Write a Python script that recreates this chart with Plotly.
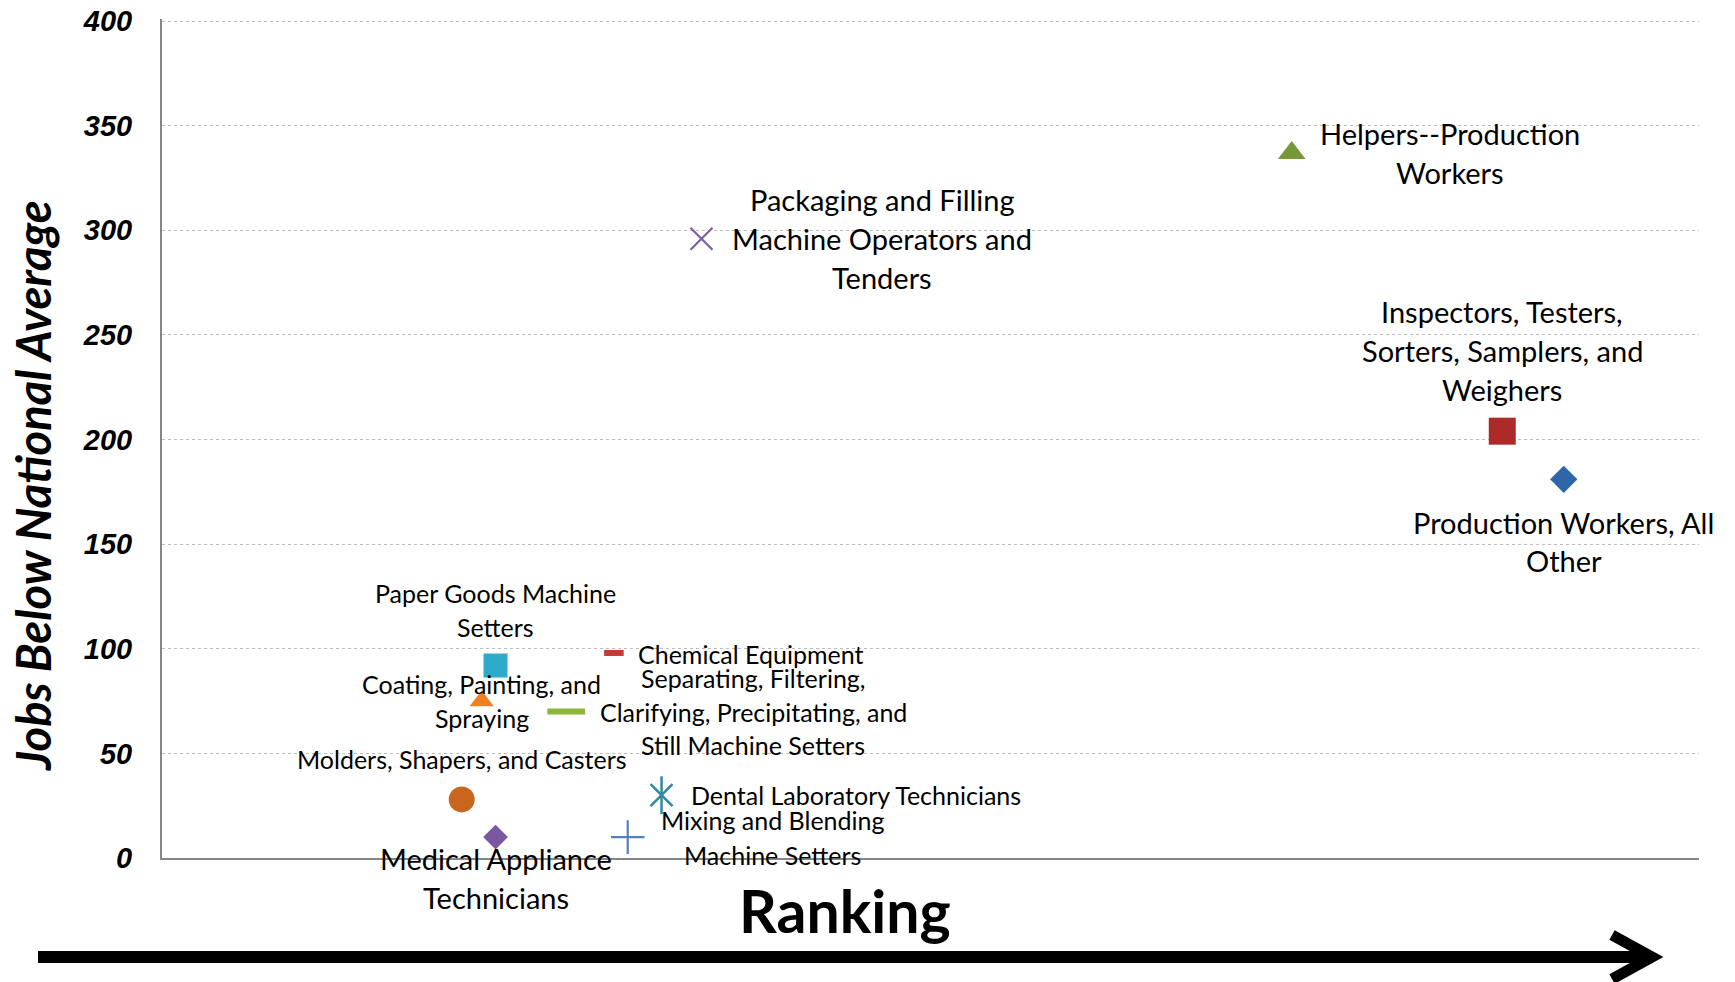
import plotly.graph_objects as go

# ---------------- data ----------------
occupations = [
    "Molders, Shapers, and Casters",
    "Medical Appliance Technicians",
    "Paper Goods Machine Setters",
    "Coating, Painting, and Spraying",
    "Chemical Equipment",
    "Separating, Filtering, Clarifying, Precipitating, and Still Machine Setters",
    "Dental Laboratory Technicians",
    "Mixing and Blending Machine Setters",
    "Packaging and Filling Machine Operators and Tenders",
    "Helpers--Production Workers",
    "Inspectors, Testers, Sorters, Samplers, and Weighers",
    "Production Workers, All Other",
]
ranking = [19.5, 21.7, 21.7, 20.8, 29.4, 26.3, 32.5, 30.3, 35.1, 73.5, 87.2, 91.2]
jobs_below = [28, 10, 92, 75, 98, 70, 30, 10, 296, 337, 204, 181]

label_lines = [
    ["Molders, Shapers, and Casters"],
    ["Medical Appliance", "Technicians"],
    ["Paper Goods Machine", "Setters"],
    ["Coating, Painting, and", "Spraying"],
    ["Chemical Equipment"],
    ["Separating, Filtering,", "Clarifying, Precipitating, and", "Still Machine Setters"],
    ["Dental Laboratory Technicians"],
    ["Mixing and Blending", "Machine Setters"],
    ["Packaging and Filling", "Machine Operators and", "Tenders"],
    ["Helpers--Production", "Workers"],
    ["Inspectors, Testers,", "Sorters, Samplers, and", "Weighers"],
    ["Production Workers, All", "Other"],
]
y_ticks = [0, 50, 100, 150, 200, 250, 300, 350, 400]

# ---------------- styles ----------------
# (symbol, size, color, line width) ; open symbols use line colour
marker_styles = [
    [("circle", 26, "#C9661D", 0)],
    [("diamond", 19, "#7B56A3", 0)],
    [("square", 24, "#2EABCB", 0)],
    [("triangle-up", 21, "#F07F1D", 0)],
    [("line-ew-open", 14, "#C43B35", 6)],
    [("line-ew-open", 27, "#8DB63C", 6)],
    [("x-thin-open", 22, "#31899C", 2.5), ("line-ns-open", 27, "#31899C", 2.5)],
    [("cross-thin-open", 24, "#4F81BD", 2.2)],
    [("x-thin-open", 22, "#7E5FA3", 2.2)],
    [("triangle-up", 24, "#76973A", 0)],
    [("square", 27, "#AE2A2A", 0)],
    [("diamond", 21, "#2F66AA", 0)],
]
# label placement: (anchor, xshift, center yshift, font size, line spacing)
BIG, SMALL = 29, 25
label_pos = [
    ("center", 0, 40, SMALL, 33),
    ("center", 0, -41, BIG, 39),
    ("center", 0, 56, SMALL, 34),
    ("center", 0, 0, SMALL, 34),
    ("left", 22, -1, SMALL, 33),
    ("center", 187, 0, SMALL, 33.5),
    ("left", 27, 0, SMALL, 33),
    ("center", 145, 0, SMALL, 35),
    ("center", 181, 0, BIG, 39),
    ("center", 158, 0, BIG, 39),
    ("center", 0, 81, BIG, 39),
    ("center", 0, -62, BIG, 38),
]

LABEL_FONT = "Lato"
fig = go.Figure()

for i, name in enumerate(occupations):
    for (sym, size, color, lw) in marker_styles[i]:
        if lw > 0:
            marker = dict(symbol=sym, size=size, color=color,
                          line=dict(color=color, width=lw))
        else:
            marker = dict(symbol=sym, size=size, color=color,
                          line=dict(width=0))
        fig.add_trace(go.Scatter(
            x=[ranking[i]], y=[jobs_below[i]], mode="markers",
            marker=marker, name=name, showlegend=False, hoverinfo="name+y",
        ))

annotations = []
for i, lines in enumerate(label_lines):
    anchor, xs, ys, fs, sp = label_pos[i]
    n = len(lines)
    for k, line in enumerate(lines):
        annotations.append(dict(
            x=ranking[i], y=jobs_below[i], xref="x", yref="y",
            text=line, showarrow=False,
            xanchor=anchor, yanchor="middle",
            xshift=xs, yshift=ys + (n - 1) / 2 * sp - k * sp,
            font=dict(family=LABEL_FONT, size=fs, color="#000000"),
        ))

# plot-area pixel geometry (page body margin is removed below)
W, H = 1735, 982
L, R, T, B = 162, 1699, 19, 858


def px(xp):
    return (xp - L) / (R - L)


def py(yp):
    return (B - yp) / (B - T)


# y-axis title
annotations.append(dict(
    x=px(33), y=py(486), xref="paper", yref="paper",
    text="<b><i>Jobs Below National Average</i></b>", showarrow=False,
    textangle=-90, xanchor="center", yanchor="middle",
    font=dict(family="Lato", size=47, color="#000000"),
))
# Ranking title
annotations.append(dict(
    x=px(845), y=py(910), xref="paper", yref="paper",
    text="<b>Ranking</b>", showarrow=False,
    xanchor="center", yanchor="middle",
    font=dict(family="Lato", size=59, color="#000000"),
))

shapes = [
    dict(type="line", xref="paper", yref="paper",
         x0=px(38), x1=px(1646), y0=py(957), y1=py(957),
         line=dict(color="#000000", width=12)),
    dict(type="path", xref="paper", yref="paper",
         path=f"M {px(1612)},{py(935)} L {px(1652)},{py(957)} L {px(1612)},{py(979)}",
         line=dict(color="#000000", width=11)),
]

fig.update_layout(
    width=W, height=H, autosize=False,
    margin=dict(l=L, r=W - R, t=T, b=H - B),
    paper_bgcolor="white", plot_bgcolor="white",
    showlegend=False,
    annotations=annotations, shapes=shapes,
    xaxis=dict(range=[0, 100], showticklabels=False, showgrid=False,
               zeroline=False, showline=True, linecolor="#868686",
               linewidth=2, ticks="", automargin=False),
    yaxis=dict(range=[0, 401], tickvals=y_ticks,
               ticktext=[str(v) for v in y_ticks],
               showgrid=True, gridcolor="#BDBDBD", griddash="dot",
               gridwidth=1, zeroline=False, showline=True,
               linecolor="#868686", linewidth=2, automargin=False,
               ticks="outside", ticklen=22, tickcolor="rgba(0,0,0,0)",
               ticklabeloverflow="allow",
               tickfont=dict(family="Liberation Sans", size=29,
                             color="#000000", weight="bold", style="italic")),
)

fig.write_html("out.html", config={"displayModeBar": False},
               post_script="document.body.style.margin='0px';")
